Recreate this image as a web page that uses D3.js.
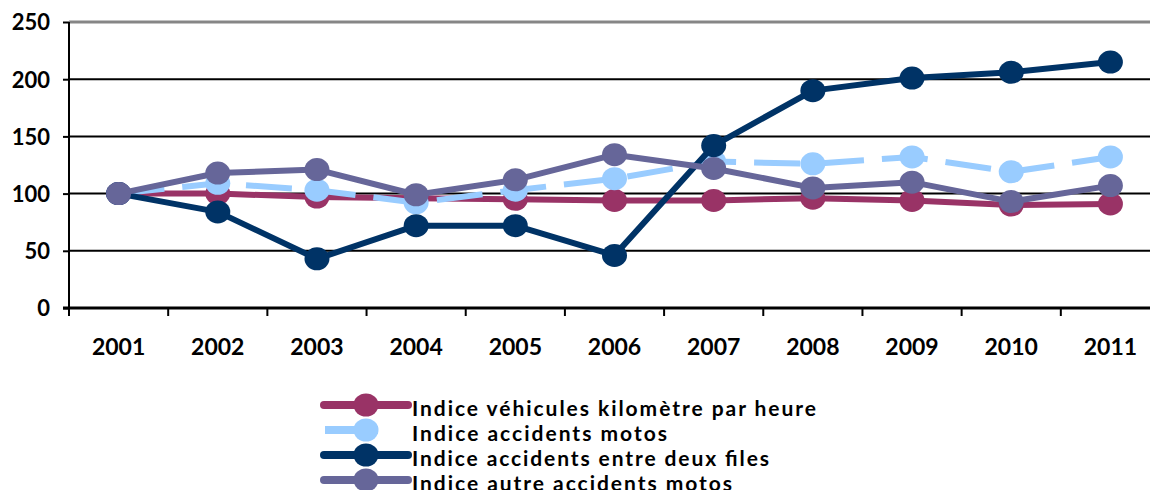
<!DOCTYPE html>
<html>
<head>
<meta charset="utf-8">
<script src="https://cdn.jsdelivr.net/npm/d3@7"></script>
<style>
  body { margin: 0; background: #fff; }
  text { font-family: Lato, "Open Sans", sans-serif; font-weight: bold; fill: #000; }
</style>
</head>
<body>
<script>
//chart data
var years = ["2001", "2002", "2003", "2004", "2005", "2006", "2007", "2008", "2009", "2010", "2011"];
var yTicks = [0, 50, 100, 150, 200, 250];

var vehicules = [100, 100, 97, 96, 95, 94, 94, 96, 94, 90, 91];
var motos = [100, 109, 103, 92, 103, 113, 128, 126, 132, 119, 132];
var entreFiles = [100, 84, 43, 72, 72, 46, 142, 190, 201, 206, 215];
var autres = [100, 118, 121, 99, 112, 134, 122, 105, 110, 93, 107];

var seriesNames = ["Indice véhicules kilomètre par heure", "Indice accidents motos",
    "Indice accidents entre deux files", "Indice autre accidents motos"];
var seriesColors = ["#993366", "#99ccff", "#003366", "#666699"];
var seriesValues = [vehicules, motos, entreFiles, autres];

var width = 1150,
    height = 490;

var svg = d3.select("body")
    .append("svg")
    .attr("width", width)
    .attr("height", height);

//scales: category bands, points at band centres
var x = d3.scaleBand()
    .domain(years)
    .range([69, 1160])
    .padding(0);

var y = d3.scaleLinear()
    .domain([0, 250])
    .range([308, 22]);

var cx = function(d, i) { return x(years[i]) + x.bandwidth() / 2; };

//horizontal gridlines
svg.selectAll(".grid")
    .data(yTicks.filter(function(t) { return t > 0; }))
    .enter()
    .append("line")
    .attr("x1", 69)
    .attr("x2", width)
    .attr("y1", function(d) { return y(d); })
    .attr("y2", function(d) { return y(d); })
    .attr("stroke", function(d) { return d == 250 ? "#868686" : "#000"; })
    .attr("stroke-width", function(d) { return d == 250 ? 3 : 2; });

//y axis
var yAxis = svg.append("g")
    .attr("transform", "translate(69,0)")
    .call(d3.axisLeft(y).tickValues(yTicks).tickSize(6).tickPadding(13));
yAxis.select(".domain").attr("stroke-width", 2).attr("d", "M0," + y(250) + "V" + y(0));
yAxis.selectAll(".tick line").attr("stroke-width", 2);
yAxis.selectAll("text")
    .style("font-size", "22px")
    .style("font-family", "Lato, 'Open Sans', sans-serif")
    .style("font-weight", "bold")
    .attr("dy", "0.36em");

//x axis: ticks between categories
svg.append("line")
    .attr("x1", 63).attr("x2", width)
    .attr("y1", y(0)).attr("y2", y(0))
    .attr("stroke", "#000").attr("stroke-width", 3);

svg.selectAll(".xtick")
    .data(years)
    .enter()
    .append("line")
    .attr("x1", function(d) { return x(d); })
    .attr("x2", function(d) { return x(d); })
    .attr("y1", y(0))
    .attr("y2", y(0) + 8)
    .attr("stroke", "#000")
    .attr("stroke-width", 2);

svg.selectAll(".xlabel")
    .data(years)
    .enter()
    .append("text")
    .attr("x", function(d) { return x(d) + x.bandwidth() / 2; })
    .attr("y", 355)
    .attr("text-anchor", "middle")
    .style("font-size", "23px")
    .text(function(d) { return d; });

//lines and markers
var line = d3.line()
    .x(cx)
    .y(function(d) { return y(d); });

seriesValues.forEach(function(vals, s) {
    svg.append("path")
        .datum(vals)
        .attr("d", line)
        .attr("fill", "none")
        .attr("stroke", seriesColors[s])
        .attr("stroke-width", 6)
        .attr("stroke-linejoin", "round")
        .attr("stroke-dasharray", s == 1 ? "46,18" : null);

    svg.selectAll(".dot" + s)
        .data(vals)
        .enter()
        .append("ellipse")
        .attr("cx", cx)
        .attr("cy", function(d) { return y(d); })
        .attr("rx", 12.5)
        .attr("ry", 11.5)
        .attr("fill", seriesColors[s]);
});

//legend
var legendWidths = [404, 255, 357, 320];
var legend = svg.selectAll(".legend")
    .data(seriesNames)
    .enter()
    .append("g")
    .attr("transform", function(d, i) { return "translate(0," + (405 + i * 25) + ")"; });

legend.append("line")
    .attr("x1", function(d, i) { return i == 1 ? 325 : 324; })
    .attr("x2", function(d, i) { return i == 1 ? 378 : 408; })
    .attr("stroke", function(d, i) { return seriesColors[i]; })
    .attr("stroke-width", 8)
    .attr("stroke-linecap", function(d, i) { return i == 1 ? "butt" : "round"; });

legend.append("ellipse")
    .attr("cx", 366)
    .attr("rx", 12.5)
    .attr("ry", 11.5)
    .attr("fill", function(d, i) { return seriesColors[i]; });

legend.append("text")
    .attr("x", 412)
    .attr("y", 11)
    .style("font-size", "21px")
    .attr("textLength", function(d, i) { return legendWidths[i]; })
    .attr("lengthAdjust", "spacing")
    .text(function(d) { return d; });
</script>
</body>
</html>
